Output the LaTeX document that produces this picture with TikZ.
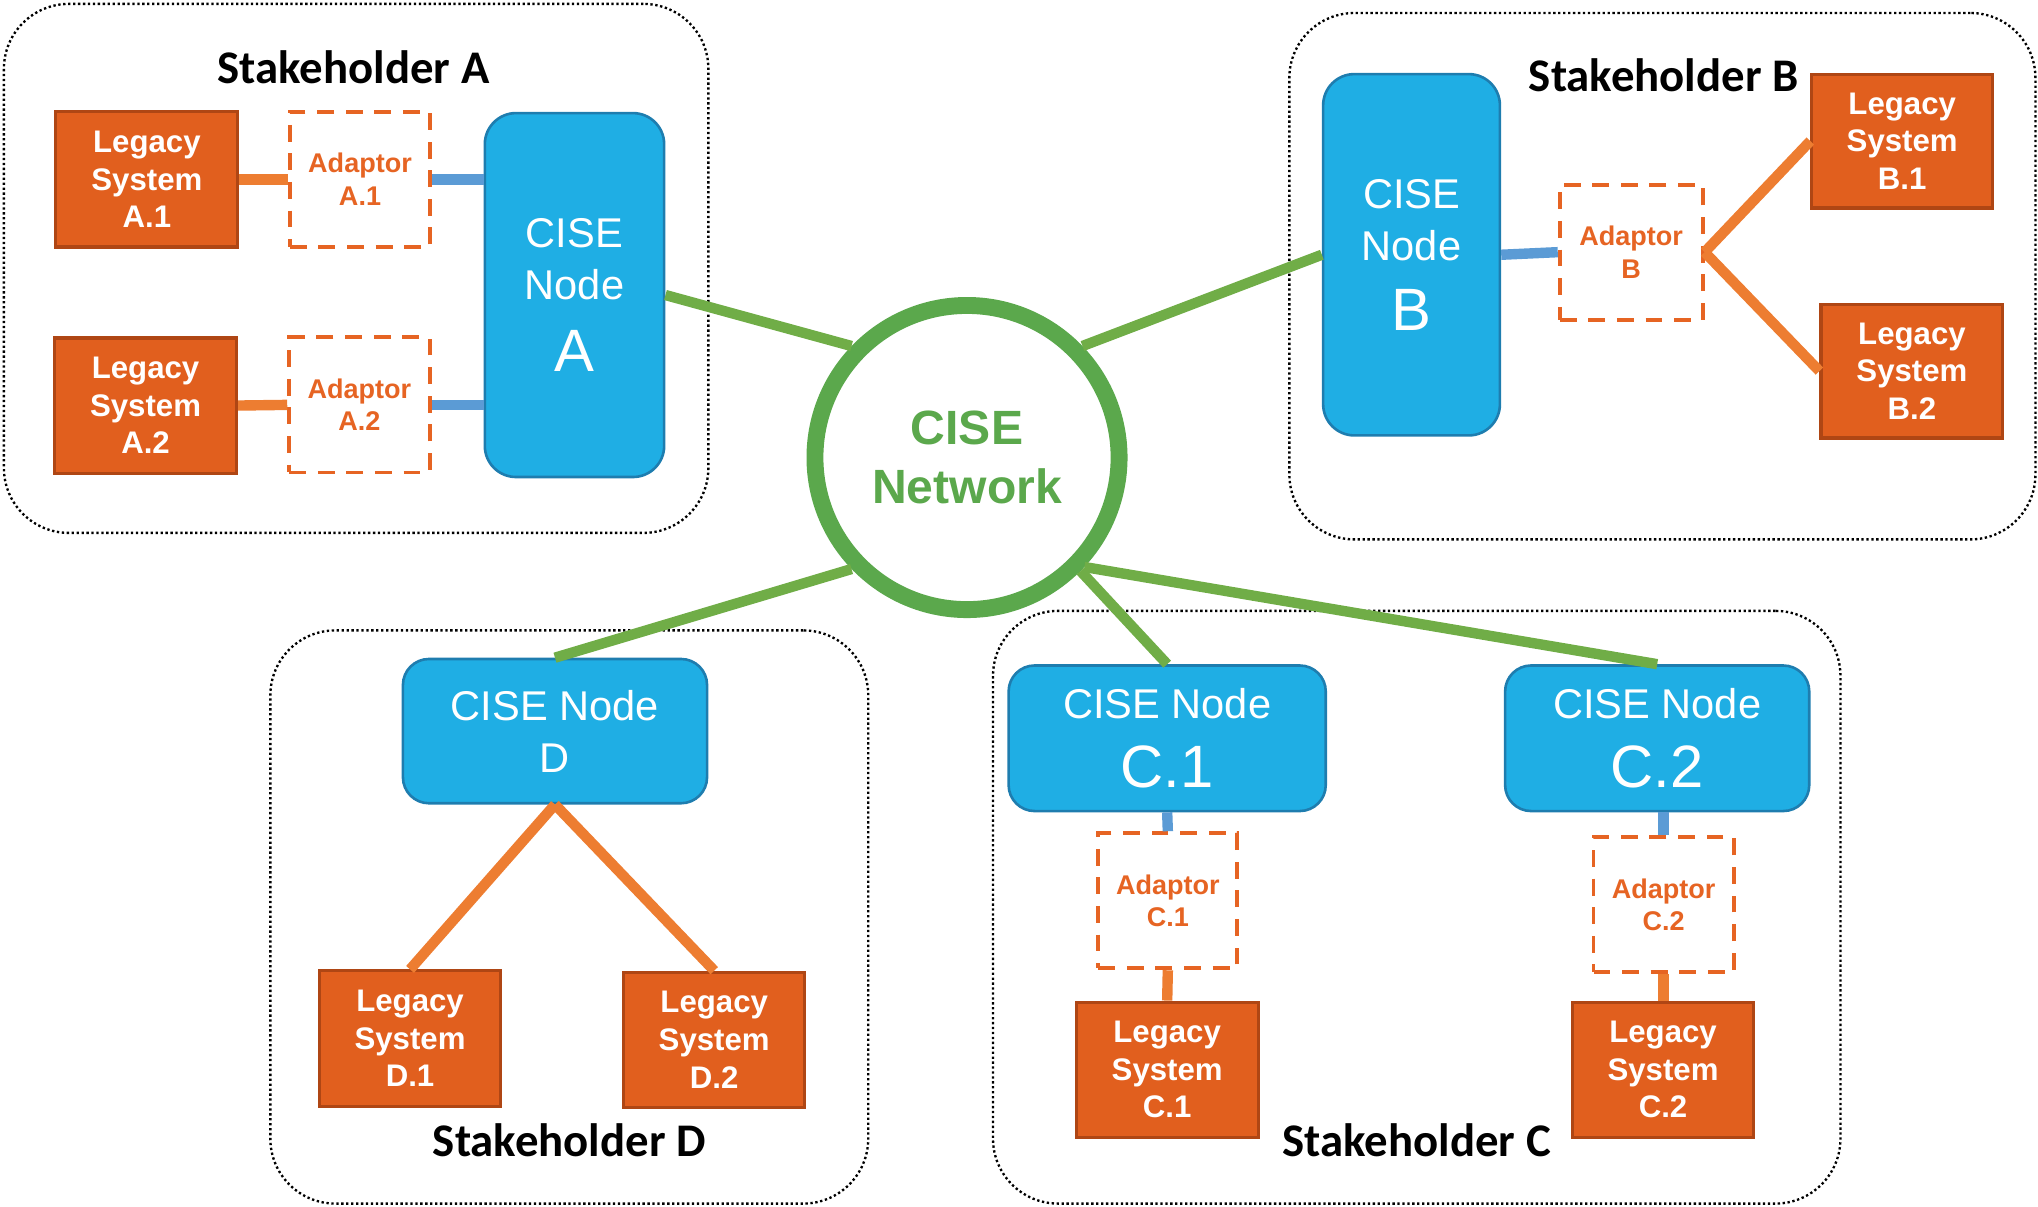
\documentclass[tikz,border=0pt]{standalone}
\usepackage{fontspec}
\setmainfont{Liberation Sans}
\newfontfamily\calib{Carlito}
\definecolor{cisefill}{RGB}{31,174,228}
\definecolor{ciseedge}{RGB}{30,125,175}
\definecolor{legfill}{RGB}{225,95,30}
\definecolor{legedge}{RGB}{175,70,20}
\definecolor{adapt}{RGB}{230,100,35}
\definecolor{orline}{RGB}{237,125,49}
\definecolor{blline}{RGB}{91,155,213}
\definecolor{grline}{RGB}{112,173,71}
\definecolor{grring}{RGB}{91,168,76}
\tikzset{
  legacy/.style={draw=legedge, fill=legfill, line width=1.2pt, text=white,
    font=\bfseries\fontsize{12}{14.5}\selectfont, align=center, inner sep=0pt,
    minimum width=70pt, minimum height=52pt},
  adaptor/.style={draw=adapt, dash pattern=on 6.5pt off 4.5pt, line width=1.5pt, text=adapt,
    font=\bfseries\fontsize{10.4}{12.5}\selectfont, align=center, inner sep=0pt,
    minimum width=54pt, minimum height=52pt},
  cisenode/.style={draw=ciseedge, fill=cisefill, line width=1pt, rounded corners=12pt,
    text=white, align=center, inner sep=0pt, font=\fontsize{16}{20}\selectfont},
  frame/.style={draw, densely dotted, line width=0.9pt, rounded corners=25pt, inner sep=0pt},
  title/.style={font=\calib\bfseries\fontsize{18}{20}\selectfont, inner sep=0pt},
  orl/.style={draw=orline, line width=4pt},
  bll/.style={draw=blline, line width=4pt},
  grl/.style={draw=grline, line width=4pt},
}
\begin{document}
\begin{tikzpicture}[x=0.5pt,y=-0.5pt]
\useasboundingbox (0,0) rectangle (1568,928);
% frames
\node[frame, minimum width=271pt, minimum height=203.5pt] (sA) at (274,206.5) {};
\node[frame, minimum width=287pt, minimum height=202.5pt] (sB) at (1279,212.5) {};
\node[frame, minimum width=230pt, minimum height=220.5pt] (sD) at (438,705.5) {};
\node[frame, minimum width=326pt, minimum height=228pt] (sC) at (1090,698) {};
% titles
\node[title] (tA) at (272,52) {Stakeholder A};
\node[title] (tB) at (1280,58) {Stakeholder B};
\node[title] (tD) at (438,877) {Stakeholder D};
\node[title] (tC) at (1090,877) {Stakeholder C};
% stakeholder A
\node[legacy] (lA1) at (113,138) {Legacy\\System\\A.1};
\node[legacy] (lA2) at (112,312) {Legacy\\System\\A.2};
\node[adaptor] (aA1) at (277,138) {Adaptor\\A.1};
\node[adaptor] (aA2) at (276.5,311.5) {Adaptor\\A.2};
\node[cisenode, minimum width=69pt, minimum height=140pt] (nA) at (442,227)
  {CISE\\Node\\[7.5pt]\fontsize{23}{27}\selectfont A};
% stakeholder B
\node[cisenode, minimum width=68pt, minimum height=139pt] (nB) at (1086,196)
  {CISE\\Node\\[7pt]\fontsize{23}{27}\selectfont B};
\node[adaptor, minimum width=55pt] (aB) at (1255,194) {Adaptor\\B};
\node[legacy, minimum width=69.5pt, minimum height=51.5pt] (lB1) at (1463.5,108.5) {Legacy\\System\\B.1};
\node[legacy, minimum width=70pt, minimum height=51.5pt] (lB2) at (1471,285.5) {Legacy\\System\\B.2};
% stakeholder D
\node[cisenode, rounded corners=10pt, minimum width=117pt, minimum height=55.5pt] (nD) at (427,562.5)
  {\fontsize{16}{19}\selectfont CISE Node\\D};
\node[legacy, minimum width=69.5pt] (lD1) at (315.5,799) {Legacy\\System\\D.1};
\node[legacy, minimum width=69.5pt] (lD2) at (549.5,800) {Legacy\\System\\D.2};
% stakeholder C
\node[cisenode, rounded corners=10pt, minimum width=122pt, minimum height=56pt] (nC1) at (898,568)
  {CISE Node\\[6.5pt]\fontsize{23}{27}\selectfont C.1};
\node[cisenode, rounded corners=10pt, minimum width=117pt, minimum height=56pt] (nC2) at (1275,568)
  {CISE Node\\[6.5pt]\fontsize{23}{27}\selectfont C.2};
\node[adaptor, minimum width=53.5pt] (aC1) at (898.5,693) {Adaptor\\C.1};
\node[adaptor] (aC2) at (1280,696) {Adaptor\\C.2};
\node[legacy] (lC1) at (898,823) {Legacy\\System\\C.1};
\node[legacy, minimum width=69.5pt] (lC2) at (1279.5,823) {Legacy\\System\\C.2};
% network
\node[circle, draw=grring, line width=6.5pt, fill=white, minimum size=117pt, inner sep=0pt,
  text=grring, font=\bfseries\fontsize{18.5}{22.5}\selectfont, align=center] (net) at (744,352)
  {CISE\\Network};
% connectors A
\draw[orl] (lA1.east) -- (aA1.west);
\draw[orl] (lA2.east) -- (aA2.west);
\draw[bll] (aA1.east) -- (aA1.east -| nA.west);
\draw[bll] (aA2.east) -- (aA2.east -| nA.west);
% connectors B
\draw[bll] (nB.east) -- (aB.west);
\draw[orl] (aB.east) -- (lB1.west);
\draw[orl] (aB.east) -- (lB2.west);
% connectors D
\draw[orl] (nD.south) -- (lD1.north);
\draw[orl] (nD.south) -- (lD2.north);
% connectors C
\draw[bll] (nC1.south) -- (aC1.north);
\draw[bll] (aC2.north) -- (aC2.north |- nC2.south);
\draw[orl] (aC1.south) -- (lC1.north);
\draw[orl] (aC2.south) -- (aC2.south |- lC2.north);
% network links
\draw[grl] (net.136) -- (nA.east);
\draw[grl] (net.44) -- (nB.west);
\draw[grl] (net.224) -- (nD.north);
\draw[grl] (net.315) -- (nC1.north);
\draw[grl] (net.317) -- (nC2.north);
\end{tikzpicture}
\end{document}
